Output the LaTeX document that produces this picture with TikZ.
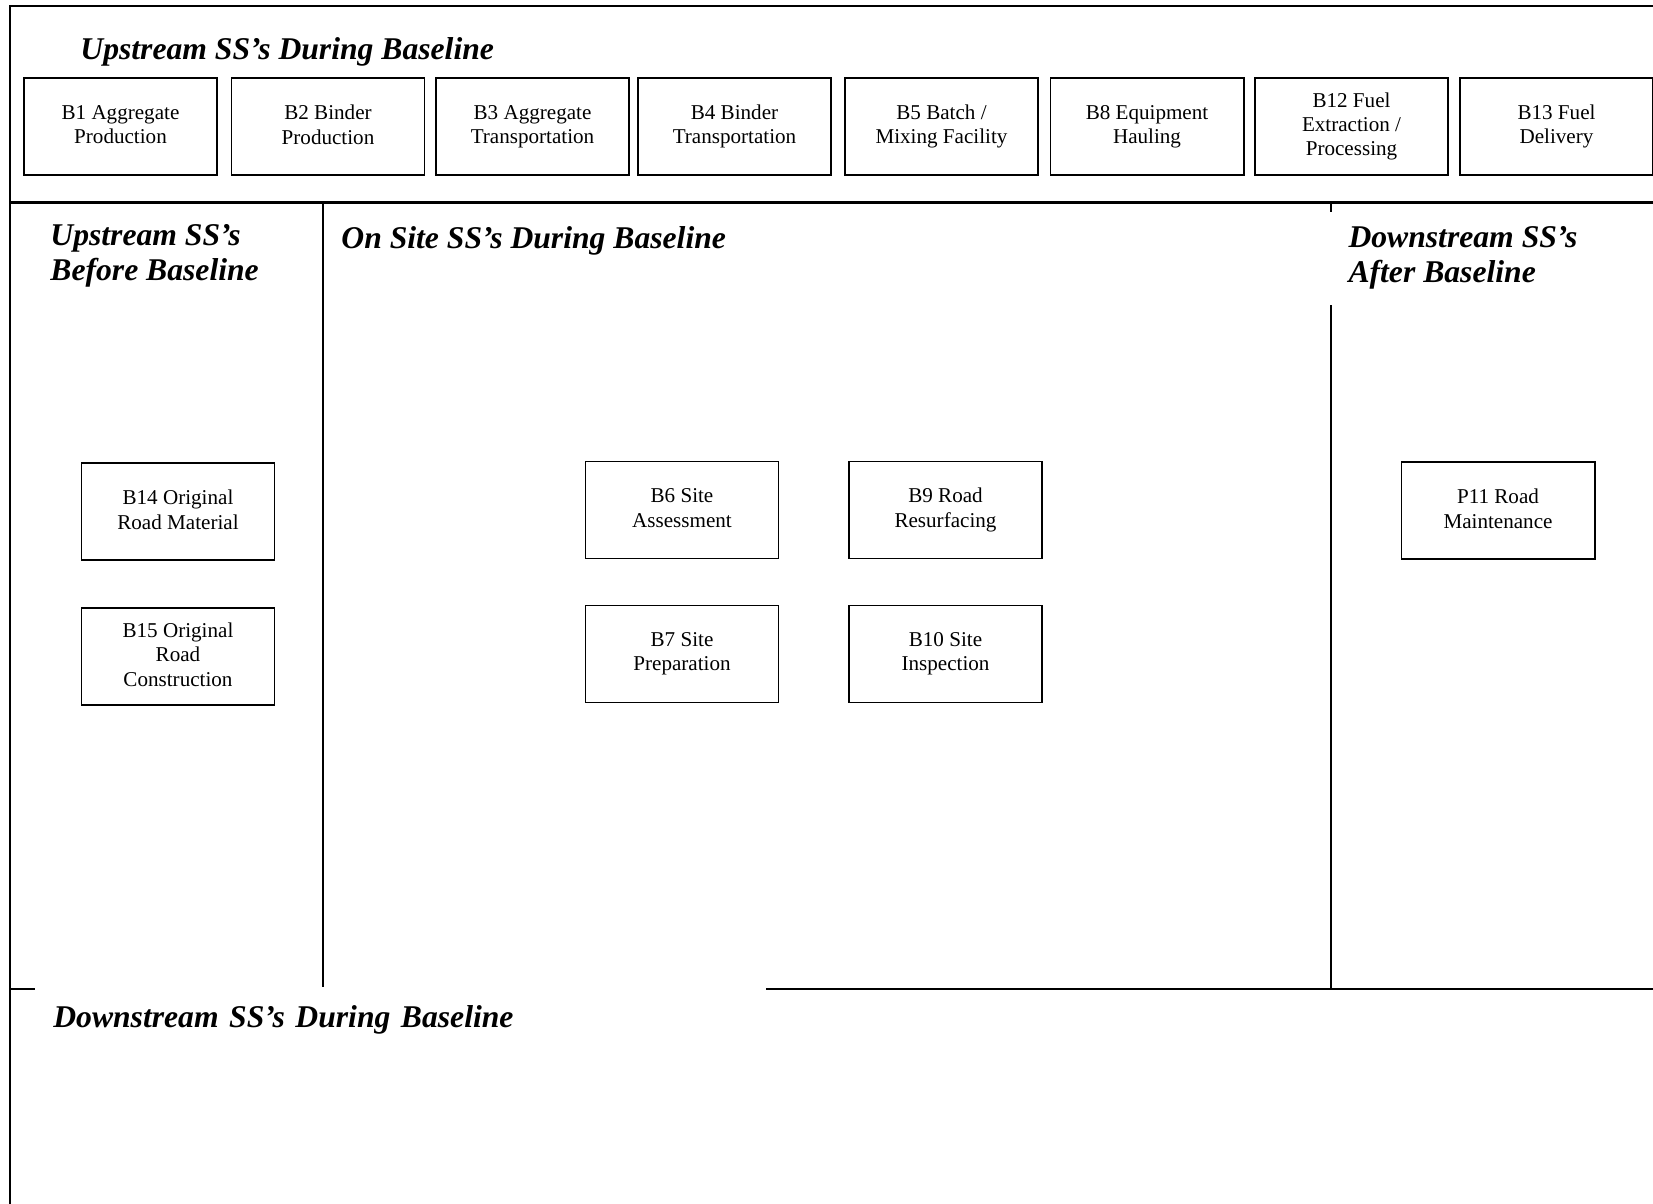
\documentclass[tikz,border=0pt]{standalone}
\usepackage{fontspec}
\setmainfont{Liberation Serif}
\newcommand{\ssboxfont}{\fontsize{10pt}{11.5pt}\selectfont}
\newcommand{\ssheadfont}{\fontsize{15pt}{16.8pt}\selectfont\bfseries\itshape}

\begin{document}
\begin{tikzpicture}[x=0.4739pt, y=-0.4739pt,
	ssbox/.style={draw, line width=0.9pt, minimum width=91.5pt, minimum height=46pt, inner sep=0pt, align=center, font=\ssboxfont, execute at begin node=\rule{0pt}{9.7pt}, execute at end node=\rule[-1.8pt]{0pt}{1.8pt}},
	heading/.style={inner sep=0pt, align=left, font=\ssheadfont, anchor=base west},
	divider/.style={line width=1pt}]
	\useasboundingbox (0,0) rectangle (1653,1204);
% FRAME AND DIVIDERS
	\draw [divider] (1653,6) -- (10,6) --++ (0,1198);
	\draw [divider] (10,202.5) --++ (1643,0);
	\draw [divider] (323,202.5) --++ (0,785);
	\draw [divider] (1331,202.5) --++ (0,785);
	\draw [divider] (10,989) --++ (1643,0);
% UPSTREAM DURING BASELINE
	\node [heading] (tUD) at (80,60) {Upstream SS’s During Baseline};
	\node [ssbox] (b1) at (120.5,126.5) {B1 Aggregate\\Production};
	\node [ssbox] (b2) at (328,126.5) {B2 Binder\\Production};
	\node [ssbox] (b3) at (532.5,126.5) {B3 Aggregate\\Transportation};
	\node [ssbox] (b4) at (734.5,126.5) {B4 Binder\\Transportation};
	\node [ssbox] (b5) at (941.5,126.5) {B5 Batch /\\Mixing Facility};
	\node [ssbox] (b8) at (1147,126.5) {B8 Equipment\\Hauling};
	\node [ssbox] (b12) at (1351.5,126.5) {B12 Fuel\\Extraction /\\Processing};
	\node [ssbox] (b13) at (1556.5,126.5) {B13 Fuel\\Delivery};
% UPSTREAM BEFORE BASELINE
	\node [heading] (tUB) at (50,281) {Upstream SS’s\\Before Baseline};
	\node [ssbox] (b14) at (178,511.5) {B14 Original\\Road Material};
	\node [ssbox] (b15) at (178,656.5) {B15 Original\\Road\\Construction};
% ON SITE DURING BASELINE
	\node [heading] (tOS) at (341,249) {On Site SS’s During Baseline};
	\node [ssbox] (b6) at (682,510) {B6 Site\\Assessment};
	\node [ssbox] (b7) at (682,654) {B7 Site\\Preparation};
	\node [ssbox] (b9) at (945.5,510) {B9 Road\\Resurfacing};
	\node [ssbox] (b10) at (945.5,654) {B10 Site\\Inspection};
% DOWNSTREAM AFTER BASELINE
	\node [heading, fill=white, inner xsep=10pt, inner ysep=7pt] (tDA) at (1327,283) {Downstream SS’s\\After Baseline};
	\node [ssbox] (p11) at (1498,510.5) {P11 Road\\Maintenance};
% DOWNSTREAM DURING BASELINE
	\node [heading, fill=white, inner xsep=8.5pt, inner ysep=8.5pt, text width=329pt] (tDD) at (35,1027) {Downstream SS’s During Baseline};
\end{tikzpicture}
\end{document}
